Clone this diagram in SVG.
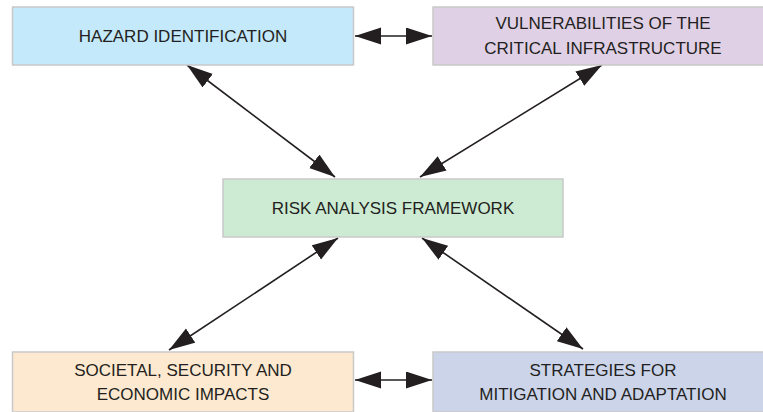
<svg xmlns="http://www.w3.org/2000/svg" width="763" height="412" viewBox="0 0 763 412">
<style>
.box{stroke:#c9c9c9;stroke-width:1.5}
.lbl{font-family:"Liberation Sans",Arial,sans-serif;font-size:17px;fill:#231f20;text-anchor:middle}
.con{stroke:#231f20;stroke-width:1.6;fill:none;marker-start:url(#ah);marker-end:url(#ah)}
</style>
<defs>
<marker id="ah" markerUnits="userSpaceOnUse" markerWidth="27" markerHeight="18" refX="26" refY="8.5" orient="auto-start-reverse" viewBox="0 0 27 18">
<path d="M0,0 L26,8.5 L0,17 z" fill="#231f20"/>
</marker>
</defs>
<rect width="763" height="412" fill="#ffffff"/>
<g id="connectors">
<line class="con" x1="355" y1="36" x2="432" y2="36"/>
<line class="con" x1="355" y1="380" x2="432" y2="380"/>
<line class="con" x1="187" y1="65" x2="335" y2="177"/>
<line class="con" x1="602" y1="65" x2="420" y2="177"/>
<line class="con" x1="338" y1="238" x2="169" y2="350"/>
<line class="con" x1="422" y1="238" x2="583" y2="349"/>
</g>
<g id="hazard">
<rect class="box" x="12.5" y="7" width="341" height="58" fill="#c3e9fa"/>
<text class="lbl" x="183" y="42">HAZARD IDENTIFICATION</text>
</g>
<g id="vulnerabilities">
<rect class="box" x="433" y="7" width="340" height="58" fill="#e0d0e6"/>
<text class="lbl" x="603" y="29">VULNERABILITIES OF THE</text>
<text class="lbl" x="603" y="54">CRITICAL INFRASTRUCTURE</text>
</g>
<g id="risk">
<rect class="box" x="223" y="179" width="340" height="58" fill="#cdebd3"/>
<text class="lbl" x="393" y="214">RISK ANALYSIS FRAMEWORK</text>
</g>
<g id="societal">
<rect class="box" x="12.5" y="352" width="341" height="60" fill="#fde9d0"/>
<text class="lbl" x="183" y="376">SOCIETAL, SECURITY AND</text>
<text class="lbl" x="183" y="400">ECONOMIC IMPACTS</text>
</g>
<g id="strategies">
<rect class="box" x="433" y="352" width="340" height="60" fill="#ccd4ea"/>
<text class="lbl" x="603" y="376">STRATEGIES FOR</text>
<text class="lbl" x="603" y="400">MITIGATION AND ADAPTATION</text>
</g>
</svg>
